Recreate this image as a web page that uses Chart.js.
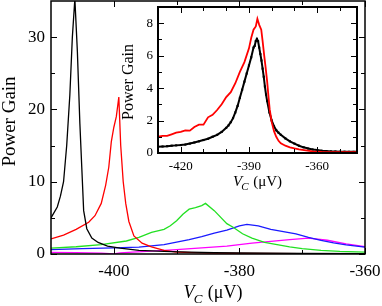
<!DOCTYPE html>
<html>
<head>
<meta charset="utf-8">
<script src="https://cdn.jsdelivr.net/npm/chart.js@4.4.1/dist/chart.umd.min.js"></script>
<style>
  body { margin: 0; background: #fff; }
  #wrap { position: relative; width: 382px; height: 306px; }
  canvas { position: absolute; }
</style>
</head>
<body>
<div id="wrap">
  <canvas id="mainChart" width="382" height="306" style="left:0;top:0"></canvas>
  <canvas id="insetChart" width="262" height="200" style="left:120px;top:0"></canvas>
</div>
<script>
// ---- main plot data (V_C in uV, power gain) ----
const blackX = [-410, -409, -408.5, -408, -407.5, -407, -406.6, -406.2, -405.8, -405.4, -405.1, -404.8, -404.3, -403.5, -402.5, -401, -399, -396, -392, -388, -384, -380, -370, -360];
const blackY = [5.0, 6.5, 8, 10, 15, 22, 30, 35.3, 28, 18, 12, 6, 3.5, 2.2, 1.6, 1.1, 0.8, 0.5, 0.35, 0.25, 0.2, 0.15, 0.1, 0.05];

const redX = [-410, -408, -406, -404, -403, -402, -401.3, -400.8, -400.4, -400, -399.6, -399.2, -398.9, -398.5, -398.1, -397.6, -396.8, -395.5, -394, -392, -390, -385, -380, -370, -360];
const redY = [2.1, 2.6, 3.4, 4.4, 5.3, 7.0, 9.5, 12, 15.5, 17.5, 19, 21.7, 15, 10, 7, 4.5, 2.5, 1.5, 1.0, 0.5, 0.25, 0.12, 0.08, 0.05, 0.03];

const greenX = [-410, -406, -402, -398, -396, -394, -392, -391, -390, -389, -388, -387, -386, -385.4, -384, -382, -381, -379.5, -378, -376, -374, -372, -370, -367, -364, -360];
const greenY = [0.8, 1.0, 1.3, 1.8, 2.3, 3.0, 3.4, 3.9, 4.6, 5.5, 6.2, 6.4, 6.7, 7.0, 6.0, 4.2, 3.7, 2.8, 2.2, 1.6, 1.3, 1.0, 0.75, 0.5, 0.35, 0.25];

const blueX = [-410, -405, -400, -396, -392, -388, -386, -384, -382, -380, -378.8, -377, -375, -373, -371, -369, -367, -365, -363, -360];
const blueY = [0.6, 0.75, 0.85, 0.95, 1.3, 2.0, 2.4, 2.9, 3.3, 3.9, 4.1, 3.9, 3.4, 3.1, 2.8, 2.3, 1.9, 1.55, 1.25, 0.95];

const magentaX = [-410, -406, -402, -400, -399, -397, -394, -390, -386, -382, -378, -375, -372, -369, -366, -363, -360];
const magentaY = [0.22, 0.2, 0.12, 0.02, 0.15, 0.25, 0.4, 0.6, 0.85, 1.1, 1.5, 1.75, 2.0, 2.2, 1.9, 1.4, 1.0];

const mainXTicks = [-400, -380, -360];
const mainYTicks = [0, 10, 20, 30];

// ---- inset data ----
const insetRedX = [-430, -428, -426, -424, -422, -420, -418, -416, -414, -412, -410, -408, -406, -404, -402, -400, -398, -396, -394, -392, -390, -389, -388, -387, -386.3, -385.5, -384.6, -384, -383.3, -382.7, -382, -381.5, -380.9, -380, -379, -378, -377, -376, -374, -372, -370, -368, -365, -362, -358, -354, -350, -346, -342.5];
const insetRedY = [1.0, 1.05, 1.05, 1.15, 1.25, 1.3, 1.4, 1.38, 1.6, 1.75, 1.75, 2.2, 2.35, 2.65, 3.0, 3.45, 3.75, 4.3, 5.0, 5.6, 6.45, 7.1, 7.6, 7.8, 8.27, 7.9, 7.6, 6.9, 6.0, 5.3, 4.4, 3.6, 2.7, 1.9, 1.35, 1.0, 0.75, 0.6, 0.45, 0.35, 0.28, 0.22, 0.16, 0.1, 0.07, 0.06, 0.05, 0.05, 0.05];

const insetBlackX = [-430, -428, -426, -424, -422, -420, -418, -416, -414, -412, -410, -408, -406, -404, -402, -400, -399, -398, -397, -396, -395, -394, -393, -392, -391, -390, -389, -388, -387.5, -387, -386.5, -386, -385.5, -385, -384.5, -384, -383.5, -383, -382.5, -382, -381, -380, -379, -378, -377, -376, -374, -372, -370, -368, -366, -364, -362, -360, -358, -356, -354, -352, -350, -348, -346, -344, -342.5];
const insetBlackY = [0.38, 0.4, 0.42, 0.45, 0.47, 0.49, 0.52, 0.58, 0.65, 0.72, 0.8, 0.88, 1.0, 1.12, 1.3, 1.55, 1.7, 1.9, 2.15, 2.5, 2.9, 3.4, 3.9, 4.4, 4.9, 5.4, 5.9, 6.5, 6.6, 6.9, 7.03, 6.9, 6.5, 6.1, 5.7, 5.2, 4.7, 4.1, 3.6, 3.2, 2.5, 2.0, 1.65, 1.4, 1.25, 1.12, 0.9, 0.72, 0.58, 0.45, 0.35, 0.28, 0.22, 0.18, 0.14, 0.12, 0.1, 0.09, 0.08, 0.08, 0.07, 0.07, 0.07];

const insetXTicks = [-420, -390, -360];
const insetYTicks = [0, 2, 4, 6, 8];

const FONT = 'Liberation Serif';

function pts(xs, ys) {
    return xs.map((x, i) => ({ x: x, y: ys[i] }));
}

// frame, inward ticks on all four sides and the axis titles
const frameTicks = {
    id: 'frameTicks',
    beforeDatasetsDraw(chart, args, o) {
        if (!o.fill) return;
        const a = chart.chartArea;
        chart.ctx.save();
        chart.ctx.fillStyle = '#fff';
        chart.ctx.fillRect(a.left, a.top, a.width, a.height);
        chart.ctx.restore();
    },
    afterDatasetsDraw(chart, args, o) {
        const ctx = chart.ctx, a = chart.chartArea;
        const x = chart.scales.x, y = chart.scales.y;
        ctx.save();
        ctx.strokeStyle = '#000';
        ctx.lineWidth = 1;
        ctx.beginPath();
        const tx = (vals, len) => vals.forEach(v => {
            const p = Math.round(x.getPixelForValue(v)) + 0.5;
            ctx.moveTo(p, a.bottom); ctx.lineTo(p, a.bottom - len);
            ctx.moveTo(p, a.top); ctx.lineTo(p, a.top + len);
        });
        const ty = (vals, len) => vals.forEach(v => {
            const p = Math.round(y.getPixelForValue(v)) + 0.5;
            ctx.moveTo(a.left, p); ctx.lineTo(a.left + len, p);
            ctx.moveTo(a.right, p); ctx.lineTo(a.right - len, p);
        });
        tx(o.xMajor, 6); tx(o.xMinor, 4);
        ty(o.yMajor, 6); ty(o.yMinor, 4);
        ctx.stroke();
        ctx.lineWidth = o.lw;
        ctx.strokeRect(a.left, a.top, a.width, a.height);

        // y title
        ctx.fillStyle = '#000';
        ctx.font = o.yFont + 'px "' + FONT + '"';
        ctx.textAlign = 'center';
        ctx.textBaseline = 'middle';
        ctx.save();
        ctx.translate(o.yTitleX, (a.top + a.bottom) / 2 + o.yTitleDy);
        ctx.rotate(-Math.PI / 2);
        ctx.fillText('Power Gain', 0, 0);
        ctx.restore();

        // x title: V_C (uV)
        const s = o.xFont;
        const it = 'italic ' + s + 'px "' + FONT + '"';
        const sub = 'italic ' + Math.round(s * 0.72) + 'px "' + FONT + '"';
        const rm = s + 'px "' + FONT + '"';
        ctx.textAlign = 'left';
        ctx.textBaseline = 'alphabetic';
        ctx.font = it; const wV = ctx.measureText('V').width;
        ctx.font = sub; const wC = ctx.measureText('C').width;
        ctx.font = rm; const wR = ctx.measureText(' (\u03bcV)').width;
        let px = (a.left + a.right) / 2 - (wV + wC + wR) / 2 + o.xTitleDx;
        const base = o.xTitleY;
        ctx.font = it; ctx.fillText('V', px, base); px += wV - s * 0.05;
        ctx.font = sub; ctx.fillText('C', px, base + s * 0.28); px += wC + s * 0.05;
        ctx.font = rm; ctx.fillText(' (\u03bcV)', px, base);
        ctx.restore();
    }
};

function fixedTicks(vals) {
    return function (scale) { scale.ticks = vals.map(v => ({ value: v })); };
}

function fitX(h) {
    return s => { s.height = h; s.paddingLeft = 0; s.paddingRight = 0; };
}
function fitY(w) {
    return s => { s.width = w; s.paddingTop = 0; s.paddingBottom = 0; };
}

function lineSet(data, color, width) {
    return { data: data, borderColor: color, borderWidth: width, pointRadius: 0, tension: 0, fill: false };
}

// ---- main chart ----
new Chart(document.getElementById('mainChart'), {
    type: 'line',
    data: {
        datasets: [
            lineSet(pts(blackX, blackY), '#000000', 1.3),
            lineSet(pts(redX, redY), '#ff0000', 1.3),
            lineSet(pts(greenX, greenY), '#22e022', 1.3),
            lineSet(pts(blueX, blueY), '#1a1aff', 1.3),
            lineSet(pts(magentaX, magentaY), '#ff00ff', 1.3)
        ]
    },
    options: {
        responsive: false,
        animation: false,
        devicePixelRatio: 1,
        layout: { padding: { top: 1, right: 17, left: 0, bottom: 0 } },
        plugins: {
            legend: { display: false },
            tooltip: { enabled: false },
            frameTicks: {
                lw: 1.5,
                xMajor: mainXTicks, xMinor: [-390, -370],
                yMajor: mainYTicks, yMinor: [5, 15, 25],
                yFont: 19, yTitleX: 10, yTitleDy: -6,
                xFont: 18, xTitleY: 298, xTitleDx: 5
            }
        },
        scales: {
            x: {
                type: 'linear', min: -410, max: -360,
                afterBuildTicks: fixedTicks(mainXTicks),
                afterFit: fitX(52),
                grid: { display: false, drawTicks: false },
                border: { display: false },
                ticks: { color: '#000', padding: 7, maxRotation: 0, font: { family: FONT, size: 17 } }
            },
            y: {
                min: 0, max: 35,
                afterBuildTicks: fixedTicks(mainYTicks),
                afterFit: fitY(51),
                grid: { display: false, drawTicks: false },
                border: { display: false },
                ticks: { color: '#000', padding: 6, font: { family: FONT, size: 17 } }
            }
        }
    },
    plugins: [frameTicks]
});

// ---- inset chart ----
new Chart(document.getElementById('insetChart'), {
    type: 'line',
    data: {
        datasets: [
            lineSet(pts(insetRedX, insetRedY), '#ff0000', 1.8),
            Object.assign(lineSet(pts(insetBlackX, insetBlackY), '#000000', 2), {
                pointRadius: 1.5, pointStyle: 'rect', pointBackgroundColor: '#000', pointBorderWidth: 0
            })
        ]
    },
    options: {
        responsive: false,
        animation: false,
        devicePixelRatio: 1,
        layout: { padding: { top: 7, right: 25, left: 0, bottom: 0 } },
        plugins: {
            legend: { display: false },
            tooltip: { enabled: false },
            frameTicks: {
                lw: 2, fill: true,
                xMajor: insetXTicks, xMinor: [-430, -410, -400, -380, -370, -350],
                yMajor: insetYTicks, yMinor: [1, 3, 5, 7],
                yFont: 16, yTitleX: 9, yTitleDy: 2,
                xFont: 15, xTitleY: 186, xTitleDx: 0
            }
        },
        scales: {
            x: {
                type: 'linear', min: -430, max: -342.5,
                afterBuildTicks: fixedTicks(insetXTicks),
                afterFit: fitX(47),
                grid: { display: false, drawTicks: false },
                border: { display: false },
                ticks: { color: '#000', padding: 6, maxRotation: 0, font: { family: FONT, size: 13 } }
            },
            y: {
                min: 0, max: 9,
                afterBuildTicks: fixedTicks(insetYTicks),
                afterFit: fitY(38),
                grid: { display: false, drawTicks: false },
                border: { display: false },
                ticks: { color: '#000', padding: 5, font: { family: FONT, size: 13 } }
            }
        }
    },
    plugins: [frameTicks]
});
</script>
</body>
</html>
